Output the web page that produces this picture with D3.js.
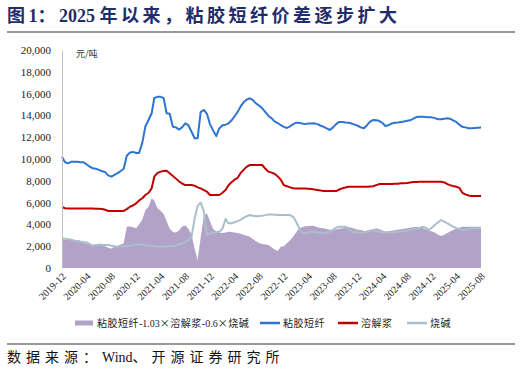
<!DOCTYPE html>
<html>
<head>
<meta charset="utf-8">
<script src="https://cdn.jsdelivr.net/npm/d3@7"></script>
<style>
  body { margin: 0; background: #fff; }
  svg { display: block; }
</style>
</head>
<body>
<div id="chart"></div>
<script>
// half-month samples, 2019-12-01 .. 2025-08-01 (1st and 16th of each month)
const startYear = 2019, startMonth = 11;

// 粘胶短纤 (元/吨)
const viscose = [
  10200, 9700, 9600, 9750, 9750, 9750, 9700, 9700, 9500, 9300, 9150, 9100,
  9000, 8880, 8800, 8500, 8380, 8550, 8700, 8900, 9100, 10300, 10600, 10650,
  10550, 10550, 11500, 13000, 13600, 14200, 15600, 15700, 15700, 15600, 14200, 14150,
  12950, 12900, 12700, 12900, 13270, 13100, 12500, 11900, 11900, 14300, 14500, 14150,
  13200, 12650, 12100, 12800, 13100, 13150, 13250, 13500, 13900, 14300, 14800, 15200,
  15450, 15570, 15400, 15100, 14900, 14650, 14300, 13950, 13750, 13450, 13300, 13100,
  12950, 12850, 13000, 13200, 13330, 13300, 13250, 13200, 13250, 13250, 13270, 13200,
  13050, 12950, 12800, 12660, 12900, 13200, 13400, 13400, 13350, 13330, 13250, 13150,
  13050, 12900, 12820, 13100, 13450, 13580, 13550, 13500, 13300, 13030, 13100, 13250,
  13330, 13350, 13400, 13450, 13500, 13550, 13700, 13850, 13880, 13880, 13860, 13840,
  13820, 13750, 13650, 13650, 13700, 13730, 13700, 13550, 13400, 13150, 12950, 12900,
  12820, 12820, 12850, 12870, 12880
];

// 溶解浆
const pulp = [
  5600, 5480, 5450, 5450, 5450, 5450, 5450, 5450, 5450, 5450, 5450, 5440,
  5430, 5420, 5350, 5230, 5230, 5230, 5230, 5230, 5240, 5400, 5620, 5750,
  5930, 6200, 6400, 6700, 6900, 7310, 8380, 8700, 8840, 8900, 8930, 8700,
  8450, 8200, 7950, 7750, 7610, 7610, 7610, 7550, 7400, 7300, 7150, 7000,
  6700, 6700, 6700, 6700, 6900, 7160, 7550, 7850, 8100, 8250, 8700, 9000,
  9300, 9450, 9450, 9450, 9450, 9450, 9100, 8840, 8750, 8650, 8400, 8100,
  7600, 7500, 7400, 7310, 7300, 7300, 7300, 7300, 7280, 7250, 7200, 7150,
  7100, 7060, 7060, 7060, 7060, 7060, 7200, 7310, 7380, 7460, 7460, 7460,
  7460, 7460, 7460, 7460, 7480, 7500, 7600, 7700, 7700, 7700, 7700, 7700,
  7720, 7740, 7770, 7770, 7800, 7850, 7880, 7900, 7920, 7920, 7920, 7920,
  7920, 7920, 7920, 7920, 7850, 7700, 7600, 7520, 7450, 7350, 6900, 6750,
  6650, 6600, 6600, 6600, 6600
];

// 烧碱
const soda = [
  2720, 2680, 2650, 2600, 2500, 2450, 2420, 2380, 2350, 2200, 2050, 2100,
  2150, 2130, 2120, 2100, 2050, 2000, 1960, 1970, 1990, 2000, 2050, 2100,
  2150, 2170, 2120, 2080, 2050, 2030, 2000, 1980, 1960, 1970, 1980, 1990,
  2000, 2050, 2150, 2250, 2350, 2550, 2900, 4500, 5700, 5990, 5200, 3050,
  3150, 3240, 3280, 3330, 3600, 4500, 4100, 4100, 4200, 4300, 4420, 4600,
  4750, 4860, 4800, 4750, 4780, 4800, 4850, 4900, 4900, 4880, 4860, 4860,
  4860, 4860, 4860, 4700, 4200, 3600, 3250, 3200, 3250, 3320, 3300, 3250,
  3180, 3220, 3280, 3330, 3500, 3700, 3790, 3790, 3790, 3600, 3330, 3300,
  3280, 3250, 3240, 3350, 3450, 3490, 3420, 3330, 3300, 3280, 3260, 3240,
  3280, 3320, 3360, 3400, 3450, 3490, 3540, 3600, 3640, 3800, 3700, 3490,
  3700, 3950, 4200, 4400, 4250, 4100, 3950, 3790, 3650, 3550, 3490, 3520,
  3580, 3620, 3640, 3640, 3640
];

// 粘胶短纤-1.03×溶解浆-0.6×烧碱
const spread = [
  2630, 2600, 2580, 2570, 2570, 2570, 2500, 2300, 2250, 2180, 2110, 2150,
  2100, 2110, 2000, 1850, 1800, 1950, 2050, 2150, 2270, 3790, 3800, 3750,
  3640, 4000, 4450, 5320, 5620, 6400, 6200, 5500, 5250, 4950, 4300, 3600,
  3300, 3250, 3450, 3800, 3900, 3600, 3100, 1800, 730, 2800, 4800, 5000,
  4300, 3600, 3350, 3250, 3200, 3250, 3320, 3300, 3250, 3200, 3150, 3050,
  2950, 2870, 2650, 2450, 2300, 2200, 2150, 2100, 1900, 1700, 1550, 1950,
  2000, 2270, 2550, 2870, 3300, 3640, 3750, 3820, 3850, 3880, 3850, 3750,
  3680, 3640, 3580, 3520, 3490, 3540, 3600, 3640, 3700, 3760, 3700, 3600,
  3520, 3480, 3400, 3330, 3450, 3550, 3640, 3550, 3450, 3330, 3380, 3420,
  3470, 3500, 3550, 3600, 3640, 3700, 3750, 3790, 3730, 3660, 3550, 3450,
  3360, 3250, 3050, 2940, 3050, 3200, 3350, 3490, 3600, 3700, 3790, 3790,
  3790, 3790, 3790, 3790, 3790
];

const xTickLabels = ["2019-12", "2020-04", "2020-08", "2020-12", "2021-04", "2021-08",
  "2021-12", "2022-04", "2022-08", "2022-12", "2023-04", "2023-08", "2023-12",
  "2024-04", "2024-08", "2024-12", "2025-04", "2025-08"];
const yTicks = [0, 2000, 4000, 6000, 8000, 10000, 12000, 14000, 16000, 18000, 20000];

const legendItems = [
  {name: ["粘胶短纤", "-1.03", "×", "溶解浆", "-0.6", "×", "烧碱"], color: "#b3a2c7", type: "area"},
  {name: ["粘胶短纤"], color: "#2e75d2", type: "line"},
  {name: ["溶解浆"], color: "#c00000", type: "line"},
  {name: ["烧碱"], color: "#a9c0cc", type: "line"}
];

const width = 522, height = 374;
const plotLeft = 62, plotRight = 481, plotTop = 50, plotBottom = 268;

const dates = viscose.map((v, i) =>
  new Date(startYear, startMonth + Math.floor(i / 2), i % 2 ? 16 : 1));
const parseMonth = d3.timeParse("%Y-%m");

const svg = d3.select("#chart").append("svg")
  .attr("width", width)
  .attr("height", height);

const x = d3.scaleTime()
  .domain([dates[0], dates[dates.length - 1]])
  .range([plotLeft, plotRight]);
const y = d3.scaleLinear()
  .domain([0, 20000])
  .range([plotBottom, plotTop]);

const serif = "'Liberation Serif', 'Times New Roman', 'Noto Sans CJK SC', serif";
const cjk = "'Noto Sans CJK SC', sans-serif";
const isLatin = s => /^[-0-9.A-Za-z ]+$/.test(s);

// write text pieces: latin runs tight, CJK runs spaced out
function mixedText(sel, parts, cjkSpacing) {
  parts.forEach(p => {
    sel.append("tspan")
      .attr("font-family", isLatin(p) ? serif : cjk)
      .attr("letter-spacing", isLatin(p) ? 0 : cjkSpacing)
      .text(p);
  });
}

// title
const title = svg.append("text")
  .attr("x", 7)
  .attr("y", 22)
  .attr("font-weight", "bold")
  .attr("font-size", 18)
  .attr("fill", "#1f2d6b");
mixedText(title, ["图", "1", "：", "2025 ", "年以来，粘胶短纤价差逐步扩大"], 3.5);

svg.append("line")
  .attr("x1", 7).attr("x2", 515)
  .attr("y1", 32).attr("y2", 32)
  .attr("stroke", "#333").attr("stroke-width", 1.2);

// spread area
svg.append("path")
  .datum(spread)
  .attr("fill", "#b3a2c7")
  .attr("d", d3.area()
    .x((d, i) => x(dates[i]))
    .y0(y(0))
    .y1(d => y(d)));

const line = d3.line()
  .x((d, i) => x(dates[i]))
  .y(d => y(d));

[[soda, "#a9c0cc"], [pulp, "#c00000"], [viscose, "#2e75d2"]].forEach(([s, c]) => {
  svg.append("path")
    .datum(s)
    .attr("fill", "none")
    .attr("stroke", c)
    .attr("stroke-width", 2)
    .attr("stroke-linejoin", "round")
    .attr("d", line);
});

// y axis
const yAxis = svg.append("g")
  .attr("transform", `translate(${plotLeft},0)`)
  .call(d3.axisLeft(y).tickValues(yTicks).tickSize(0).tickPadding(11)
    .tickFormat(d3.format(",")));
yAxis.select(".domain").attr("stroke", "#bfbfbf");
yAxis.selectAll("text")
  .attr("font-family", serif)
  .attr("font-size", 11)
  .attr("fill", "#222");

svg.append("text")
  .attr("x", 76)
  .attr("y", 57)
  .attr("font-family", cjk)
  .attr("font-size", 9)
  .attr("fill", "#333")
  .text("元/吨");

// x axis
const xAxis = svg.append("g")
  .attr("transform", `translate(0,${plotBottom})`)
  .call(d3.axisBottom(x).tickValues(xTickLabels.map(parseMonth)).tickSize(0)
    .tickFormat(d3.timeFormat("%Y-%m")));
xAxis.select(".domain").remove();
xAxis.selectAll("text")
  .attr("font-family", serif)
  .attr("font-size", 10)
  .attr("fill", "#222")
  .attr("text-anchor", "end")
  .attr("dy", null)
  .attr("y", null)
  .attr("transform", "translate(4,9) rotate(-45)");

// legend
const legendX = [75, 260, 338, 407];
const legend = svg.append("g")
  .attr("transform", "translate(0,323)");
legendItems.forEach((item, i) => {
  const g = legend.append("g").attr("transform", `translate(${legendX[i]},0)`);
  if (item.type === "area") {
    g.append("rect").attr("x", 0).attr("y", -2.5).attr("width", 18).attr("height", 5)
      .attr("fill", item.color);
  } else {
    g.append("line").attr("x1", 0).attr("x2", 20).attr("y1", 0).attr("y2", 0)
      .attr("stroke", item.color).attr("stroke-width", 2.5);
  }
  const t = g.append("text")
    .attr("x", item.type === "area" ? 22 : 23)
    .attr("y", 4)
    .attr("font-size", 10)
    .attr("fill", "#222");
  mixedText(t, item.name, 0.5);
});

// source
svg.append("line")
  .attr("x1", 7).attr("x2", 515)
  .attr("y1", 344).attr("y2", 344)
  .attr("stroke", "#333").attr("stroke-width", 1);

const source = svg.append("text")
  .attr("x", 7)
  .attr("y", 362)
  .attr("font-size", 14)
  .attr("fill", "#111");
mixedText(source, ["数据来源：", "Wind", "、开源证券研究所"], 5);
</script>
</body>
</html>
